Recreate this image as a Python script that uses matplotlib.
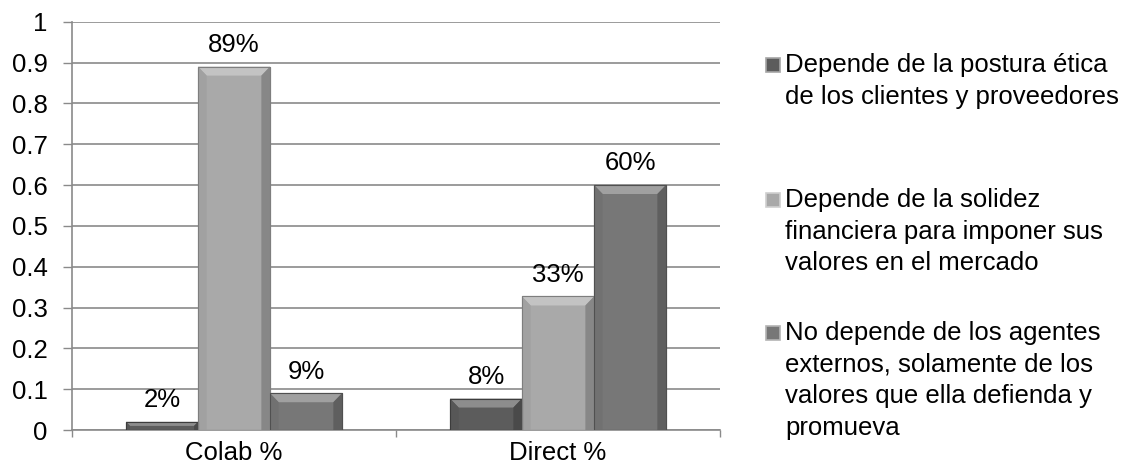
import matplotlib
matplotlib.use("Agg")
import matplotlib.pyplot as plt
from matplotlib.patches import Polygon, Rectangle
import numpy as np

# ---- data ----
categories = ["Colab %", "Direct %"]
series_labels = [
    "Depende de la postura ética\nde los clientes y proveedores",
    "Depende de la solidez\nfinanciera para imponer sus\nvalores en el mercado",
    "No depende de los agentes\nexternos, solamente de los\nvalores que ella defienda y\npromueva",
]
series_values = [
    [0.02, 0.077],   # postura ética
    [0.89, 0.327],   # solidez financiera
    [0.09, 0.60],    # no depende
]
ytick_values = [0, 0.1, 0.2, 0.3, 0.4, 0.5, 0.6, 0.7, 0.8, 0.9, 1]
ytick_labels = ["0", "0.1", "0.2", "0.3", "0.4", "0.5", "0.6", "0.7", "0.8", "0.9", "1"]

# ---- style ----
colors = ["#5c5c5c", "#a9a9a9", "#777777"]
edge_colors = ["#3c3c3c", "#7e7e7e", "#505050"]
grid_col = "#8a8a8a"
FS = 18.5
plt.rcParams["font.family"] = ["Liberation Sans", "DejaVu Sans"]

W, H = 1131, 474
fig = plt.figure(figsize=(W / 100, H / 100), dpi=100)
ax = fig.add_axes([72 / W, 1 - 430 / H, (720 - 72) / W, (430 - 21.7) / H])

x = np.arange(len(categories))
n = len(series_values)
bw = 1 / (n + 1.5)

def lighten(c, f):
    r, g, b = matplotlib.colors.to_rgb(c)
    return (r + (1 - r) * f, g + (1 - g) * f, b + (1 - b) * f)

def darken(c, f):
    r, g, b = matplotlib.colors.to_rgb(c)
    return (r * (1 - f), g * (1 - f), b * (1 - f))

for i, vals in enumerate(series_values):
    bars = ax.bar(x + (i - 1) * bw, vals, width=bw, color=colors[i],
                  edgecolor=edge_colors[i], linewidth=0.8, zorder=3)
    # bevel effect derived from each bar's geometry
    for b in bars:
        x0, y0 = b.get_x(), b.get_y()
        w, h = b.get_width(), b.get_height()
        dy = min(0.022, h / 2)
        dx = w * 0.12 * dy / 0.022
        top = Polygon([(x0, y0 + h), (x0 + w, y0 + h), (x0 + w - dx, y0 + h - dy), (x0 + dx, y0 + h - dy)],
                      closed=True, facecolor=lighten(colors[i], 0.3), edgecolor="none", zorder=4)
        left = Polygon([(x0, y0), (x0, y0 + h), (x0 + dx, y0 + h - dy), (x0 + dx, y0)],
                       closed=True, facecolor=darken(colors[i], 0.05), edgecolor="none", zorder=4)
        right = Polygon([(x0 + w, y0), (x0 + w, y0 + h), (x0 + w - dx, y0 + h - dy), (x0 + w - dx, y0)],
                        closed=True, facecolor=darken(colors[i], 0.2), edgecolor="none", zorder=4)
        for p in (top, left, right):
            ax.add_patch(p)
        ax.add_patch(Rectangle((x0, y0), w, h, facecolor="none",
                               edgecolor=edge_colors[i], linewidth=0.8, zorder=5))
        ax.annotate(f"{b.get_height():.0%}", (x0 + w / 2, y0 + h), xytext=(0, 7),
                    textcoords="offset points", ha="center", va="bottom",
                    fontsize=FS, color="black", zorder=6)

ax.set_xlim(-0.5, len(categories) - 0.5)
ax.set_ylim(0, 1)
ax.set_yticks(ytick_values)
ax.set_yticklabels(ytick_labels)
ax.set_xticks(x)
ax.set_xticklabels(categories)
ax.set_xticks(np.arange(-0.5, len(categories), 1.0), minor=True)
ax.tick_params(axis="y", length=6.5, width=1, color=grid_col, pad=11, labelsize=FS)
ax.tick_params(axis="x", which="major", length=0, pad=8, labelsize=FS)
ax.tick_params(axis="x", which="minor", length=5, width=1, color=grid_col)
ax.yaxis.grid(True, color=grid_col, linewidth=1.2, zorder=0)
ax.set_axisbelow(True)
for s in ("top", "right"):
    ax.spines[s].set_visible(False)
for s in ("left", "bottom"):
    ax.spines[s].set_color(grid_col)
    ax.spines[s].set_linewidth(1.2)

# ---- legend (manual, Excel-like) ----
first_line_y = [65, 200, 333]
line_pitch = 31.7
for i, lab in enumerate(series_labels):
    yc = first_line_y[i]
    fig.patches.append(Rectangle(((766) / W, 1 - (yc + 7) / H), 14 / W, 14 / H,
                                 transform=fig.transFigure, facecolor=colors[i],
                                 edgecolor=lighten(colors[i], 0.45), linewidth=1.2))
    for j, line in enumerate(lab.split("\n")):
        fig.text(785 / W, 1 - (yc + j * line_pitch) / H, line, ha="left", va="center",
                 fontsize=FS, color="black")

fig.savefig("out.png", dpi=100, facecolor="white")
